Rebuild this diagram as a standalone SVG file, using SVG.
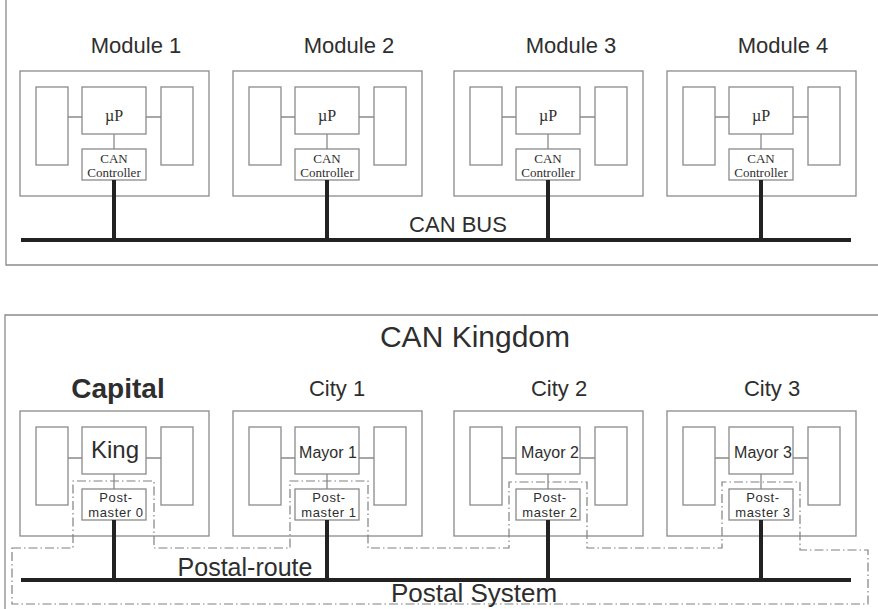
<svg xmlns="http://www.w3.org/2000/svg" width="878" height="609" viewBox="0 0 878 609">
<style>
.frame{fill:none;stroke:#8a8a8a;stroke-width:1.3}
.box{fill:#fff;stroke:#8a8a8a;stroke-width:1.3}
.thin{stroke:#8a8a8a;stroke-width:1.3;fill:none}
.bus{stroke:#222;stroke-width:4;fill:none}
.post{fill:none;stroke:#808080;stroke-width:1.2;stroke-dasharray:9 3 1.5 3}
.sans{font-family:"Liberation Sans",Arial,sans-serif;fill:#2e2e2e;text-anchor:middle}
.serif{font-family:"Liberation Serif","Times New Roman",serif;fill:#2e2e2e;text-anchor:middle}
.lbl{font-size:22px}
.up{font-size:16px}
.cc{font-size:13px}
.may{font-size:16px}
.pm{font-size:13px;letter-spacing:0.6px}
</style>
<rect width="878" height="609" fill="#fff"/>
<path class="frame" d="M6,0 V265 H878"/>
<path class="frame" d="M878,315 H5 V609"/>
<g id="top-nodes">
<g id="module1" transform="translate(20,0)">
<text class="sans lbl" x="116" y="53">Module 1</text>
<rect class="box" x="0" y="71" width="189" height="125"/>
<rect class="box" x="16" y="87" width="32" height="78"/>
<rect class="box" x="141" y="87" width="32" height="78"/>
<path class="thin" d="M48,117 H62 M126,117 H141 M94,134 V149"/>
<rect class="box" x="62" y="87" width="64" height="47"/>
<text class="serif up" x="94" y="121">µP</text>
<rect class="box" x="62" y="149" width="64" height="31"/>
<text class="serif cc" x="94" y="162.5">CAN</text>
<text class="serif cc" x="94" y="176.5">Controller</text>
</g>
<g id="module2" transform="translate(233,0)">
<text class="sans lbl" x="116" y="53">Module 2</text>
<rect class="box" x="0" y="71" width="189" height="125"/>
<rect class="box" x="16" y="87" width="32" height="78"/>
<rect class="box" x="141" y="87" width="32" height="78"/>
<path class="thin" d="M48,117 H62 M126,117 H141 M94,134 V149"/>
<rect class="box" x="62" y="87" width="64" height="47"/>
<text class="serif up" x="94" y="121">µP</text>
<rect class="box" x="62" y="149" width="64" height="31"/>
<text class="serif cc" x="94" y="162.5">CAN</text>
<text class="serif cc" x="94" y="176.5">Controller</text>
</g>
<g id="module3" transform="translate(454,0)">
<text class="sans lbl" x="117" y="53">Module 3</text>
<rect class="box" x="0" y="71" width="189" height="125"/>
<rect class="box" x="16" y="87" width="32" height="78"/>
<rect class="box" x="141" y="87" width="32" height="78"/>
<path class="thin" d="M48,117 H62 M126,117 H141 M94,134 V149"/>
<rect class="box" x="62" y="87" width="64" height="47"/>
<text class="serif up" x="94" y="121">µP</text>
<rect class="box" x="62" y="149" width="64" height="31"/>
<text class="serif cc" x="94" y="162.5">CAN</text>
<text class="serif cc" x="94" y="176.5">Controller</text>
</g>
<g id="module4" transform="translate(667,0)">
<text class="sans lbl" x="116" y="53">Module 4</text>
<rect class="box" x="0" y="71" width="189" height="125"/>
<rect class="box" x="16" y="87" width="32" height="78"/>
<rect class="box" x="141" y="87" width="32" height="78"/>
<path class="thin" d="M48,117 H62 M126,117 H141 M94,134 V149"/>
<rect class="box" x="62" y="87" width="64" height="47"/>
<text class="serif up" x="94" y="121">µP</text>
<rect class="box" x="62" y="149" width="64" height="31"/>
<text class="serif cc" x="94" y="162.5">CAN</text>
<text class="serif cc" x="94" y="176.5">Controller</text>
</g>
</g>
<text class="sans lbl" x="458" y="232">CAN BUS</text>
<text class="sans" x="475" y="347" font-size="30">CAN Kingdom</text>
<g id="bottom-nodes">
<g id="capital" transform="translate(20,0)">
<text class="sans" x="98" y="398" font-size="28" font-weight="bold">Capital</text>
<rect class="box" x="0" y="411" width="189" height="125"/>
<rect class="box" x="16" y="427" width="32" height="78"/>
<rect class="box" x="141" y="427" width="32" height="78"/>
<path class="thin" d="M48,458 H62 M126,458 H141 M94,474 V489"/>
<rect class="box" x="62" y="427" width="64" height="47"/>
<text class="sans" x="95" y="458" font-size="24">King</text>
<rect class="box" x="62" y="489" width="64" height="31"/>
<text class="sans pm" x="96" y="502">Post-</text>
<text class="sans pm" x="96" y="516.5">master 0</text>
</g>
<g id="city1" transform="translate(233,0)">
<text class="sans lbl" x="104" y="396">City 1</text>
<rect class="box" x="0" y="411" width="189" height="125"/>
<rect class="box" x="16" y="427" width="32" height="78"/>
<rect class="box" x="141" y="427" width="32" height="78"/>
<path class="thin" d="M48,458 H62 M126,458 H141 M94,474 V489"/>
<rect class="box" x="62" y="427" width="64" height="47"/>
<text class="sans may" x="95" y="458">Mayor 1</text>
<rect class="box" x="62" y="489" width="64" height="31"/>
<text class="sans pm" x="96" y="502">Post-</text>
<text class="sans pm" x="96" y="516.5">master 1</text>
</g>
<g id="city2" transform="translate(454,0)">
<text class="sans lbl" x="105" y="396">City 2</text>
<rect class="box" x="0" y="411" width="189" height="125"/>
<rect class="box" x="16" y="427" width="32" height="78"/>
<rect class="box" x="141" y="427" width="32" height="78"/>
<path class="thin" d="M48,458 H62 M126,458 H141 M94,474 V489"/>
<rect class="box" x="62" y="427" width="64" height="47"/>
<text class="sans may" x="96" y="458">Mayor 2</text>
<rect class="box" x="62" y="489" width="64" height="31"/>
<text class="sans pm" x="96" y="502">Post-</text>
<text class="sans pm" x="96" y="516.5">master 2</text>
</g>
<g id="city3" transform="translate(667,0)">
<text class="sans lbl" x="105" y="396">City 3</text>
<rect class="box" x="0" y="411" width="189" height="125"/>
<rect class="box" x="16" y="427" width="32" height="78"/>
<rect class="box" x="141" y="427" width="32" height="78"/>
<path class="thin" d="M48,458 H62 M126,458 H141 M94,474 V489"/>
<rect class="box" x="62" y="427" width="64" height="47"/>
<text class="sans may" x="96" y="458">Mayor 3</text>
<rect class="box" x="62" y="489" width="64" height="31"/>
<text class="sans pm" x="96" y="502">Post-</text>
<text class="sans pm" x="96" y="516.5">master 3</text>
</g>
</g>
<g id="postal-system">
<path class="post" d="M12,548 H73 V481 H154 V548 H290 V481 H368 V548 H509 V482 H587 V548 H722 V482 H800 V550 H868 V604 H12 Z"/>
</g>
<g id="connectors">
<path class="bus" d="M21,240 H851 M114,180 V240 M327,180 V240 M548,180 V240 M761,180 V240"/>
<path class="bus" d="M21,580 H851 M114,520 V580 M327,520 V580 M548,520 V580 M761,520 V580"/>
</g>
<text class="sans" x="245" y="576" font-size="25">Postal-route</text>
<text class="sans" x="474" y="602" font-size="26">Postal System</text>
</svg>
